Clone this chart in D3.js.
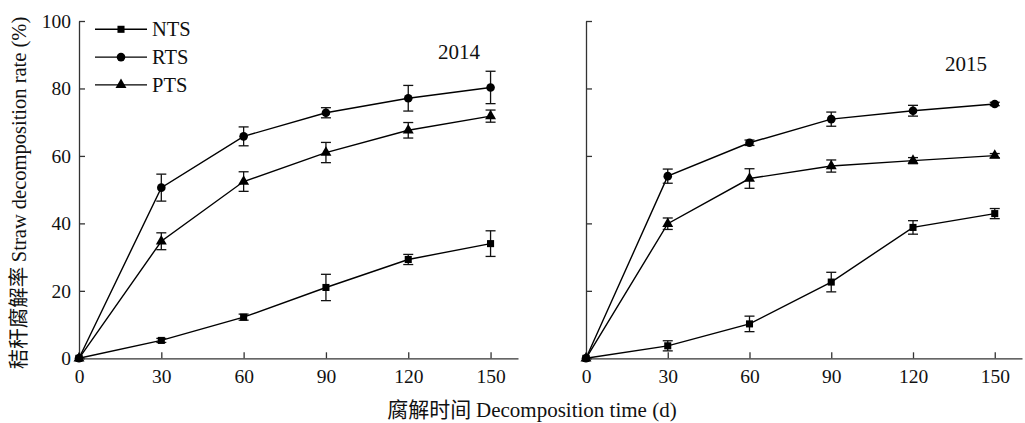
<!DOCTYPE html>
<html>
<head>
<meta charset="utf-8">
<script src="https://cdn.jsdelivr.net/npm/d3@7"></script>
<style>
  body { margin: 0; background: #fff; }
  svg text { font-family: "Liberation Serif", "Times New Roman", serif; fill: #111; }
  .cjk { font-family: "Noto Sans CJK SC", serif; }
</style>
</head>
<body>
<div id="chart"></div>
<script>
// sampling days
const days = [0, 30, 60, 90, 120, 150];
const yTicks = [0, 20, 40, 60, 80, 100];

// 2014 means and error bars (%)
const nts2014 = [0, 5.3, 12.2, 21.0, 29.3, 34.0];
const nts2014Err = [0, 0.6, 0.9, 3.9, 1.5, 3.8];
const rts2014 = [0, 50.6, 65.8, 72.8, 77.1, 80.3];
const rts2014Err = [0, 4.0, 2.8, 1.5, 3.8, 4.8];
const pts2014 = [0, 34.7, 52.4, 61.0, 67.6, 71.8];
const pts2014Err = [0, 2.5, 2.9, 3.0, 2.3, 1.8];

// 2015
const nts2015 = [0, 3.7, 10.2, 22.6, 38.8, 42.9];
const nts2015Err = [0, 1.5, 2.3, 2.9, 2.0, 1.5];
const rts2015 = [0, 54.0, 63.9, 70.9, 73.4, 75.4];
const rts2015Err = [0, 2.1, 0.8, 2.1, 1.6, 0.5];
const pts2015 = [0, 39.9, 53.3, 57.0, 58.6, 60.1];
const pts2015Err = [0, 1.7, 2.9, 1.8, 0.9, 0.6];

const seriesNames = ["NTS", "RTS", "PTS"];
const symbols = { NTS: d3.symbolSquare, RTS: d3.symbolCircle, PTS: d3.symbolTriangle };
const symSize = { NTS: 50, RTS: 58, PTS: 52 };

const W = 1025, H = 423;
const svg = d3.select("#chart").append("svg")
  .attr("width", W).attr("height", H);

const y = d3.scaleLinear().domain([0, 100]).range([358.3, 21]);

const panels = [
  { left: 79, right: 518, label: "2014", lx: 438, ly: 59, showY: true,
    data: { NTS: [nts2014, nts2014Err], RTS: [rts2014, rts2014Err], PTS: [pts2014, pts2014Err] } },
  { left: 586, right: 1022, label: "2015", lx: 945, ly: 71, showY: false,
    data: { NTS: [nts2015, nts2015Err], RTS: [rts2015, rts2015Err], PTS: [pts2015, pts2015Err] } }
];

panels.forEach(p => {
  const x = d3.scaleLinear().domain([0, 160]).range([p.left, p.right]);
  const g = svg.append("g");

  const xAxis = d3.axisBottom(x).tickValues(days).tickSize(-6).tickSizeOuter(0).tickPadding(11);
  g.append("g").attr("transform", `translate(0,${y(0)})`).call(xAxis)
    .call(s => s.selectAll("text").attr("font-size", 19.5).style("font-family", "Liberation Serif"));

  const yAxis = d3.axisLeft(y).tickValues(yTicks).tickSize(-6).tickSizeOuter(0).tickPadding(8);
  if (!p.showY) yAxis.tickFormat("");
  g.append("g").attr("transform", `translate(${p.left},0)`).call(yAxis)
    .call(s => s.selectAll("text").attr("font-size", 19.5).style("font-family", "Liberation Serif"));

  g.selectAll(".domain, .tick line").attr("stroke", "#333").attr("stroke-width", 1.3);

  const line = d3.line().x((d, i) => x(days[i])).y(d => y(d));

  seriesNames.forEach(name => {
    const [vals, errs] = p.data[name];
    g.append("path").datum(vals)
      .attr("d", line).attr("fill", "none")
      .attr("stroke", "#000").attr("stroke-width", 1.4);

    const eb = g.append("g").attr("stroke", "#111").attr("stroke-width", 1.3);
    vals.forEach((v, i) => {
      const e = errs[i];
      if (!e) return;
      const cx = x(days[i]);
      eb.append("line").attr("x1", cx).attr("x2", cx).attr("y1", y(v + e)).attr("y2", y(v - e));
      eb.append("line").attr("x1", cx - 5).attr("x2", cx + 5).attr("y1", y(v + e)).attr("y2", y(v + e));
      eb.append("line").attr("x1", cx - 5).attr("x2", cx + 5).attr("y1", y(v - e)).attr("y2", y(v - e));
    });

    g.selectAll(null).data(vals).enter().append("path")
      .attr("d", d3.symbol().type(symbols[name]).size(symSize[name]))
      .attr("transform", (d, i) => `translate(${x(days[i])},${y(d)})`)
      .attr("fill", "#000");
  });

  g.append("text").attr("x", p.lx).attr("y", p.ly)
    .attr("font-size", 21).text(p.label);
});

// legend
const legend = svg.append("g");
seriesNames.forEach((name, i) => {
  const ly = 29.3 + i * 27.8;
  legend.append("line").attr("x1", 95).attr("x2", 147).attr("y1", ly).attr("y2", ly)
    .attr("stroke", "#000").attr("stroke-width", 1.4);
  legend.append("path")
    .attr("d", d3.symbol().type(symbols[name]).size(symSize[name]))
    .attr("transform", `translate(121,${ly})`).attr("fill", "#000");
  legend.append("text").attr("x", 152).attr("y", ly).attr("dy", "0.35em")
    .attr("font-size", 20.5).text(name);
});

// axis titles
const yt = svg.append("text")
  .attr("transform", "translate(26,193) rotate(-90)")
  .attr("text-anchor", "middle").attr("font-size", 20.5);
yt.append("tspan").attr("class", "cjk").text("秸秆腐解率 ");
yt.append("tspan").text("Straw decomposition rate (%)");

const xt = svg.append("text")
  .attr("x", 532).attr("y", 417)
  .attr("text-anchor", "middle").attr("font-size", 21);
xt.append("tspan").attr("class", "cjk").text("腐解时间 ");
xt.append("tspan").text("Decomposition time (d)");
</script>
</body>
</html>
